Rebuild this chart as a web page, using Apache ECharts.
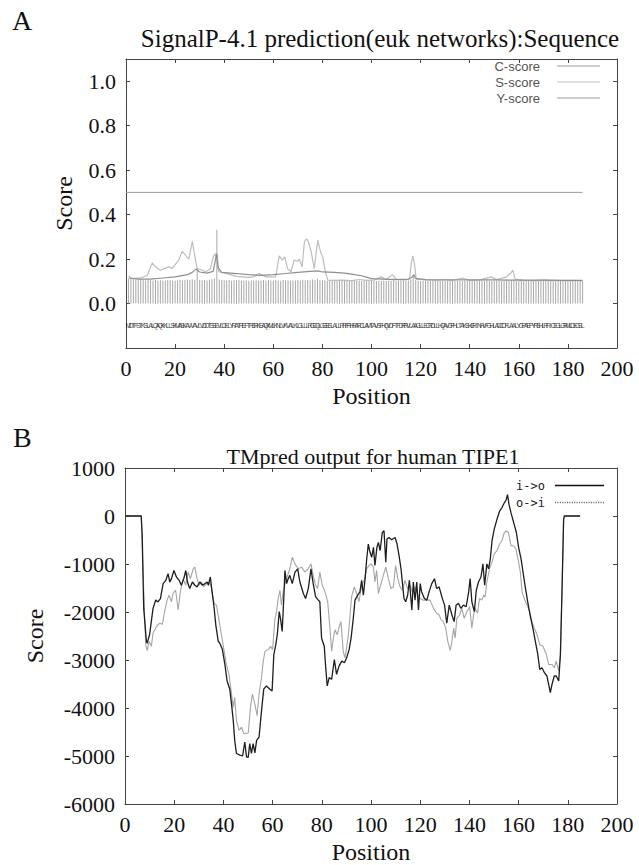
<!DOCTYPE html>
<html>
<head>
<meta charset="utf-8">
<script src="https://cdn.jsdelivr.net/npm/echarts@6/dist/echarts.min.js"></script>
<style>
html,body{margin:0;padding:0;background:#fff;}
#chart{width:639px;height:865px;}
</style>
</head>
<body>
<div id="chart"></div>
<script>
// ---------- Panel A: SignalP-4.1 ----------
const titleA = "SignalP-4.1 prediction(euk networks):Sequence";
const titleB = "TMpred output for human TIPE1";
const sequence = "MDTFSTKSLALQAQKKLLSKMASKAVVAVLVDDTSSEVLDELYRATREFTRSRKEAQKMLKNLVKVALKLGLLLRGDQLGGEELALLRRFRHRARCLAMTAVSFHQVDFTFDRRVLAAGLLECRDLLHQAVGPHLTAKSHGRINHVFGHLADCDFLAALYGPAEPYRSHLRRICEGLGRMLDEGSL";

const cScore = [
0.11,0.11,0.108,0.107,0.105,0.108,0.106,0.104,0.107,0.105,
0.104,0.106,0.102,0.105,0.103,0.104,0.106,0.105,0.103,0.104,
0.105,0.107,0.104,0.106,0.108,0.106,0.109,0.107,0.158,0.106,
0.105,0.106,0.104,0.107,0.109,0.112,0.332,0.108,0.106,0.105,
0.104,0.106,0.103,0.105,0.104,0.106,0.103,0.104,0.105,0.103,
0.104,0.102,0.105,0.103,0.104,0.106,0.103,0.105,0.104,0.103,
0.105,0.104,0.103,0.106,0.104,0.105,0.103,0.104,0.105,0.106,
0.104,0.107,0.105,0.106,0.104,0.108,0.105,0.11,0.106,0.105,
0.104,0.103,0.105,0.104,0.102,0.104,0.103,0.105,0.102,0.104,
0.103,0.101,0.104,0.102,0.103,0.101,0.103,0.102,0.101,0.103,
0.102,0.101,0.103,0.102,0.104,0.101,0.102,0.103,0.112,0.101,
0.102,0.103,0.101,0.102,0.104,0.108,0.128,0.106,0.102,0.101,
0.102,0.103,0.101,0.102,0.103,0.101,0.102,0.103,0.101,0.102,
0.101,0.103,0.102,0.101,0.104,0.102,0.101,0.103,0.102,0.101,
0.102,0.103,0.101,0.102,0.103,0.101,0.104,0.102,0.101,0.103,
0.102,0.103,0.101,0.102,0.104,0.103,0.106,0.102,0.101,0.103,
0.102,0.101,0.103,0.102,0.101,0.103,0.102,0.101,0.103,0.102,
0.101,0.102,0.103,0.101,0.102,0.101,0.103,0.102,0.101,0.102,
0.101,0.102,0.101,0.103,0.102,0.101
];

const sScore = [[1,0.124],[2.5,0.112],[6,0.115],[8.7,0.127],[10.7,0.183],[12,0.165],[14,0.15],[17.4,0.165],[18.8,0.158],[21.5,0.195],[22.9,0.235],[25.6,0.2],[27,0.28],[28.1,0.21],[29,0.157],[30.4,0.153],[32.4,0.143],[34.4,0.157],[35.5,0.21],[36.4,0.225],[37,0.19],[37.8,0.143],[40,0.138],[45,0.122],[50,0.118],[52,0.12],[54.2,0.135],[57,0.12],[61,0.12],[62.4,0.214],[63.7,0.195],[64.7,0.21],[65.8,0.157],[67.2,0.143],[68.5,0.195],[69.9,0.19],[70.6,0.2],[71.7,0.165],[72.7,0.28],[73.5,0.29],[74,0.285],[75.4,0.235],[76.7,0.157],[78.1,0.285],[79.2,0.235],[80.1,0.21],[81.2,0.143],[82.2,0.105],[85,0.104],[88,0.105],[92,0.103],[95,0.108],[98,0.104],[101,0.105],[104,0.12],[106,0.108],[108.6,0.13],[110,0.11],[113,0.105],[115.5,0.11],[116.2,0.18],[116.8,0.214],[117.5,0.18],[118.2,0.11],[122,0.106],[126,0.104],[130,0.106],[133,0.103],[137,0.115],[140,0.104],[144,0.105],[148.7,0.12],[151,0.108],[154.9,0.12],[156.5,0.135],[157.6,0.15],[158.5,0.11],[162,0.104],[166,0.103],[170,0.105],[174,0.104],[178,0.103],[182,0.104],[186,0.102]];

const yScore = [[1,0.115],[5,0.11],[10,0.11],[15,0.115],[20,0.12],[25,0.13],[27,0.14],[28.5,0.155],[30,0.142],[33,0.137],[35.5,0.145],[36.5,0.2],[37,0.225],[37.6,0.16],[39,0.14],[45,0.135],[50,0.13],[55,0.127],[60,0.13],[65,0.135],[70,0.14],[75,0.145],[78,0.147],[80,0.142],[85,0.14],[90,0.136],[93,0.13],[96,0.125],[100,0.112],[105,0.11],[110,0.108],[115,0.11],[116.5,0.118],[117.3,0.13],[118,0.113],[122,0.108],[130,0.107],[140,0.106],[150,0.106],[160,0.105],[170,0.105],[180,0.104],[186,0.104]];

const cutoff = [[0,0.5],[186,0.5]];
const seqRowValue = -0.1;

// ---------- Panel B: TMpred ----------
const ioScore = [[0,0],[6.6,0],[7,-410],[7.6,-1925],[8.7,-2610],[9,-2650],[10,-2470],[11.4,-1925],[12.5,-1750],[13.4,-1790],[14.4,-1720],[15.5,-1410],[16.6,-1340],[17.5,-1200],[18.2,-1375],[18.9,-1305],[19.9,-1135],[20.9,-1270],[22,-1340],[22.9,-1443],[23.9,-1305],[24.7,-1135],[25.4,-1375],[26.3,-1510],[27.4,-1375],[28.4,-1443],[29.3,-1477],[30.4,-1375],[31.5,-1443],[32.4,-1410],[33.4,-1375],[33.9,-1443],[34.7,-1270],[35.3,-1546],[36.1,-1856],[36.9,-2268],[37.9,-2610],[38.5,-2646],[39.6,-2783],[40.6,-3093],[41.5,-3436],[42.6,-3608],[43.3,-3918],[44,-4261],[44.6,-4674],[45.3,-4948],[46.7,-4983],[47.8,-5000],[48.7,-4708],[49.4,-5017],[50.1,-5030],[50.7,-4742],[51.4,-4948],[52.1,-4742],[52.8,-4935],[53.5,-4674],[54.5,-4605],[55.5,-4055],[56.4,-3608],[57.5,-3540],[58.9,-3608],[59.8,-3643],[60.5,-2887],[61.3,-2680],[61.9,-2474],[62.7,-1993],[63.2,-2131],[63.9,-2405],[64.6,-1650],[65,-1134],[65.7,-1409],[66.1,-1340],[67,-1237],[68,-1409],[69.1,-1168],[70.2,-1100],[71.1,-1375],[72.5,-1615],[73.4,-1718],[74.5,-1512],[75.6,-1100],[76.5,-1409],[77.5,-1684],[78.6,-1753],[79.2,-1787],[79.9,-2543],[81,-2715],[81.6,-3162],[82.2,-3540],[83,-3368],[84,-3402],[85.1,-2990],[86,-3299],[87,-3127],[88.1,-3024],[89.2,-3058],[90.1,-2955],[91.1,-2784],[91.9,-2543],[92.8,-2131],[93.5,-1753],[94.6,-1650],[95.5,-1581],[96.2,-1340],[96.9,-1650],[97.6,-1306],[98.2,-928],[98.9,-584],[99.6,-756],[100.3,-859],[101,-653],[101.6,-1031],[102.4,-653],[103,-550],[103.7,-722],[104.6,-344],[105.3,-309],[106,-962],[106.5,-481],[107.3,-447],[108.4,-495],[109.8,-447],[110.6,-584],[111.4,-825],[112.2,-1100],[112.8,-1409],[113.4,-1718],[114.1,-1787],[114.9,-1650],[115.6,-1340],[116.6,-1959],[117.2,-1375],[117.9,-1753],[118.6,-1375],[119.3,-1959],[120,-1409],[120.6,-1581],[121.7,-1718],[122.7,-1753],[123.6,-1581],[124.7,-1409],[125.8,-1306],[126.7,-1512],[127.7,-1477],[128.8,-1684],[129.9,-1856],[130.8,-2234],[131.8,-1856],[132.9,-2062],[133.8,-2200],[134.6,-1856],[135.6,-1821],[136.5,-1924],[137.6,-1856],[138.7,-1890],[139.7,-1581],[140.3,-1306],[141,-1787],[142,-1993],[142.8,-1546],[143.7,-1375],[144.7,-1271],[145.5,-997],[146.2,-1443],[147.1,-997],[147.8,-1100],[148.5,-893],[149.2,-515],[150.1,-275],[151.2,-69],[152.3,103],[153.2,172],[154.2,275],[155,344],[155.5,447],[156.1,241],[156.9,69],[158,-137],[159.1,-344],[160,-653],[161,-893],[161.8,-1168],[162.7,-1477],[163.7,-1787],[164.8,-2096],[165.8,-2337],[166.8,-2612],[167.7,-2852],[168.6,-3196],[169.5,-3162],[170.5,-3265],[171.5,-3333],[172.2,-3505],[172.9,-3677],[173.6,-3505],[174.5,-3333],[175.3,-3333],[176.3,-3436],[177,-2887],[177.7,-1443],[178.3,-69],[178.6,0],[185,0]];

const oiScore = [[0,0],[6.6,0],[7.3,-1100],[8.4,-2680],[9,-2804],[9.8,-2612],[10.7,-2715],[11.4,-2440],[12.8,-2302],[14.1,-2234],[15.2,-2254],[16.1,-1993],[17.1,-1753],[17.9,-1650],[18.9,-1787],[19.5,-1615],[20.6,-1546],[21.6,-1959],[22.5,-1581],[23.6,-1306],[24.7,-1443],[25.6,-1168],[26.6,-1306],[27.7,-1100],[28.4,-1065],[29.3,-1306],[30.1,-1443],[31.1,-1375],[32,-1477],[33.1,-1409],[34.2,-1375],[35.1,-1477],[36.2,-1821],[37.2,-1856],[38.3,-2200],[39.2,-2474],[40.2,-2783],[41.2,-3093],[42.3,-3299],[43.3,-3711],[44,-3986],[44.6,-3780],[45.3,-4261],[46.4,-4467],[47.4,-4399],[48.3,-4536],[50.1,-4522],[51,-3986],[51.8,-3711],[52.8,-3918],[53.7,-4158],[54.5,-3711],[55.5,-3368],[56.2,-3024],[56.9,-2818],[58.2,-2784],[59.2,-2715],[60,-2784],[60.9,-2165],[61.6,-1993],[62.3,-1718],[63,-1546],[63.6,-1856],[64.3,-1581],[65.1,-1409],[66.1,-1237],[67,-1100],[68,-859],[69.1,-997],[70.4,-1100],[71.8,-1065],[73.1,-1168],[74.5,-1100],[75.6,-997],[76.5,-1237],[77.5,-1443],[78.3,-1512],[79.2,-1168],[80.2,-1443],[81.3,-1581],[82.4,-1787],[83.3,-2337],[84,-2818],[84.7,-2543],[85.4,-2371],[86.3,-2474],[87.1,-2302],[87.8,-2200],[88.7,-2818],[89.4,-2955],[90.1,-2749],[90.8,-2474],[91.5,-2062],[92.1,-1684],[93.2,-1477],[94.2,-1615],[95.1,-1787],[96.2,-1443],[97.3,-1340],[98.2,-1100],[99.2,-1031],[100,-997],[101,-1065],[101.6,-1375],[102.3,-1134],[103,-1615],[104.1,-1409],[105,-1237],[106,-1065],[107.1,-1306],[108.1,-1512],[109.1,-1477],[110,-1031],[110.9,-1306],[111.8,-1477],[112.8,-1546],[113.8,-1340],[114.9,-1512],[115.9,-1443],[117,-1615],[117.9,-1477],[119,-1650],[120,-1718],[121.3,-1753],[122.7,-1753],[124,-1753],[125.4,-1924],[126.7,-2027],[127.7,-2062],[128.5,-2165],[129.4,-2200],[130.4,-2337],[131.2,-2612],[132.2,-2800],[132.9,-2612],[133.6,-2337],[134.2,-2543],[134.9,-2131],[136,-2062],[136.9,-1924],[137.9,-2131],[139,-1993],[140.1,-1890],[141,-2337],[141.7,-2062],[142.4,-1924],[143.3,-2027],[144.1,-1718],[145.1,-1753],[145.8,-1650],[146.4,-1684],[147.1,-1375],[148.2,-1100],[149.2,-962],[150.1,-790],[151.2,-722],[152.3,-584],[153.2,-515],[154.2,-344],[155,-309],[155.9,-344],[156.9,-619],[158,-619],[158.9,-687],[160,-962],[160.7,-1168],[161.4,-1581],[162.3,-1718],[163.4,-1856],[164.5,-1993],[165.4,-2200],[166.4,-2337],[167.5,-2474],[168.6,-2680],[169.9,-2715],[171.3,-2887],[172.2,-3093],[173.6,-3093],[174.5,-3162],[175.3,-3024],[176.3,-3230],[177,-2887],[177.7,-1443],[178.3,-69],[178.6,0],[185,0]];

// ---------- build chart ----------
const SERIF = '"Liberation Serif","DejaVu Serif",serif';
const letters = sequence.split('');
const chart = echarts.init(document.getElementById('chart'), null, {renderer: 'svg'});

// legend icon shapes (style only)
const solidIcon = 'path://M0,0h48v1h-48z';
let dotPath = '';
for (let x = 0; x < 48; x += 2.4) dotPath += 'M' + x.toFixed(1) + ',0h1.1v1h-1.1z';
const dottedIcon = 'path://' + dotPath;

function xAx(grid, pos, labels, name) {
  return {
    type: 'value', gridIndex: grid, position: pos, min: 0, max: 200, interval: 20,
    axisLine: {show: true, onZero: false, lineStyle: {color: '#444', width: 1}},
    axisTick: {show: true, inside: true, length: 4, lineStyle: {color: '#444'}},
    axisLabel: {show: labels, color: '#111', fontFamily: SERIF, fontSize: 22, margin: 9},
    splitLine: {show: false},
    name: name || '', nameLocation: 'middle', nameGap: 36,
    nameTextStyle: {color: '#111', fontFamily: SERIF, fontSize: 24}
  };
}
function yAx(grid, pos, labels, min, max, interval, fmt, name, gap) {
  return {
    type: 'value', gridIndex: grid, position: pos, min: min, max: max, interval: interval,
    axisLine: {show: true, onZero: false, lineStyle: {color: '#444', width: 1}},
    axisTick: {show: true, inside: true, length: 4, lineStyle: {color: '#444'}},
    axisLabel: {show: labels, color: '#111', fontFamily: SERIF, fontSize: 22, margin: 10, formatter: fmt},
    splitLine: {show: false},
    name: name || '', nameLocation: 'middle', nameGap: gap || 40, nameRotate: 90,
    nameTextStyle: {color: '#111', fontFamily: SERIF, fontSize: 24}
  };
}

const option = {
  animation: false,
  backgroundColor: '#fff',
  grid: [
    {left: 126, top: 59, width: 491, height: 289},
    {left: 125, top: 468, width: 492, height: 338}
  ],
  xAxis: [
    xAx(0, 'bottom', true, 'Position'),
    xAx(0, 'top', false),
    xAx(1, 'bottom', true, 'Position'),
    xAx(1, 'top', false)
  ],
  yAxis: [
    yAx(0, 'left', true, -0.2, 1.1, 0.2, function (v) {
      if (v < -0.01 || v > 1.01) return '';
      return Math.abs(v).toFixed(1);
    }, 'Score', 50),
    yAx(0, 'right', false, -0.2, 1.1, 0.2),
    yAx(1, 'left', true, -6000, 1000, 1000, function (v) { return String(Math.round(v)); }, 'Score', 78),
    yAx(1, 'right', false, -6000, 1000, 1000)
  ],
  legend: [
    {
      data: [
        {name: 'C-score', icon: solidIcon, itemStyle: {color: '#9a9a9a'}},
        {name: 'S-score', icon: solidIcon, itemStyle: {color: '#c2c2c2'}},
        {name: 'Y-score', icon: solidIcon, itemStyle: {color: '#9a9a9a'}}
      ],
      orient: 'vertical', align: 'right', right: 39, top: 59, padding: 0,
      symbolKeepAspect: false,
      itemWidth: 43, itemHeight: 1, itemGap: 2,
      textStyle: {color: '#555', fontFamily: '"Liberation Sans","DejaVu Sans",sans-serif', fontSize: 13, padding: [0, 12, 0, 0], lineHeight: 14},
      selectedMode: false
    },
    {
      data: [
        {name: 'i->o', icon: solidIcon, itemStyle: {color: '#111'}},
        {name: 'o->i', icon: dottedIcon, itemStyle: {color: '#666'}}
      ],
      orient: 'vertical', align: 'right', right: 35, top: 478, padding: 0,
      symbolKeepAspect: false,
      itemWidth: 49, itemHeight: 1.5, itemGap: 2,
      textStyle: {color: '#222', fontFamily: '"DejaVu Sans Mono","Liberation Mono",monospace', fontSize: 12, padding: [0, 5, 0, 0], lineHeight: 15},
      selectedMode: false
    }
  ],
  graphic: [
    {type: 'text', x: 12, y: 20, style: {text: 'A', font: '28px ' + SERIF, fill: '#111', textVerticalAlign: 'middle'}},
    {type: 'text', x: 380, y: 38, style: {text: titleA, font: '25px ' + SERIF, fill: '#111', textAlign: 'center', textVerticalAlign: 'middle'}},
    {type: 'text', x: 13, y: 437, style: {text: 'B', font: '28px ' + SERIF, fill: '#111', textVerticalAlign: 'middle'}},
    {type: 'text', x: 373, y: 456, style: {text: titleB, font: '22px ' + SERIF, fill: '#111', textAlign: 'center', textVerticalAlign: 'middle'}}
  ],
  series: [
    {
      name: 'C-score', type: 'bar', xAxisIndex: 0, yAxisIndex: 0,
      data: cScore.map((v, i) => [i + 1, v]),
      barWidth: 1, itemStyle: {color: '#a8a8a8'}
    },
    {
      name: 'cutoff', type: 'line', xAxisIndex: 0, yAxisIndex: 0, data: cutoff,
      symbol: 'none', lineStyle: {color: '#9a9a9a', width: 1}
    },
    {
      name: 'S-score', type: 'line', xAxisIndex: 0, yAxisIndex: 0, data: sScore,
      symbol: 'none', lineStyle: {color: '#bdbdbd', width: 1.2}, itemStyle: {color: '#bdbdbd'}
    },
    {
      name: 'Y-score', type: 'line', xAxisIndex: 0, yAxisIndex: 0, data: yScore,
      symbol: 'none', lineStyle: {color: '#8e8e8e', width: 1.2}, itemStyle: {color: '#999'}
    },
    {
      name: 'sequence', type: 'scatter', xAxisIndex: 0, yAxisIndex: 0,
      data: letters.map((ch, i) => [i + 1, seqRowValue]),
      symbolSize: 1, itemStyle: {color: 'rgba(0,0,0,0)'},
      label: {show: true, position: 'inside', formatter: p => letters[p.dataIndex],
        color: '#222', fontSize: 7, fontFamily: '"Liberation Sans",sans-serif'}
    },
    {
      name: 'o->i', type: 'line', xAxisIndex: 2, yAxisIndex: 2, data: oiScore,
      symbol: 'none', lineStyle: {color: '#a5a5a5', width: 1.1}, itemStyle: {color: '#a5a5a5'}
    },
    {
      name: 'i->o', type: 'line', xAxisIndex: 2, yAxisIndex: 2, data: ioScore,
      symbol: 'none', lineStyle: {color: '#1e1e1e', width: 1.3}, itemStyle: {color: '#1e1e1e'}
    }
  ]
};
chart.setOption(option);
</script>
</body>
</html>
